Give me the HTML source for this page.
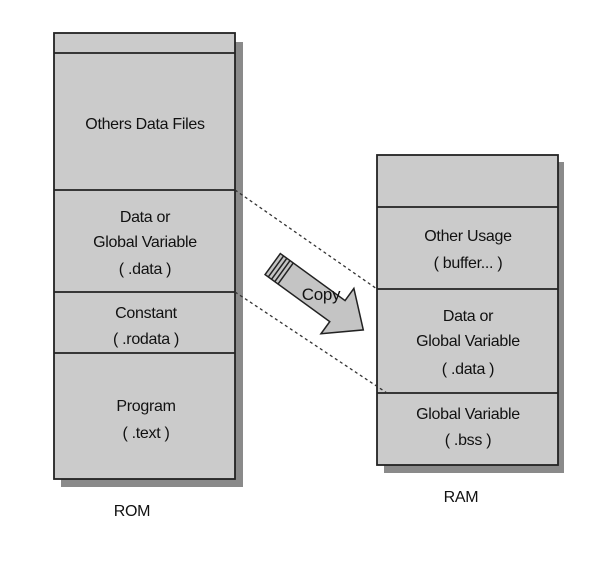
<!DOCTYPE html>
<html><head><style>
body{margin:0;width:607px;height:557px;background:#fff;overflow:hidden;font-family:"Liberation Sans",sans-serif;}
</style></head><body>
<svg width="607" height="557" viewBox="0 0 607 557" xmlns="http://www.w3.org/2000/svg">
<g font-family="Liberation Sans, sans-serif" font-size="16" fill="#111" text-anchor="middle" letter-spacing="-0.3">
<!-- ROM -->
<rect x="61" y="42" width="182" height="445" fill="#8a8a8a"/>
<rect x="54" y="33" width="181" height="446" fill="#cbcbcb" stroke="#222" stroke-width="1.8"/>
<line x1="54" y1="53" x2="235" y2="53" stroke="#222" stroke-width="1.8"/>
<line x1="54" y1="190" x2="235" y2="190" stroke="#222" stroke-width="1.8"/>
<line x1="54" y1="292" x2="235" y2="292" stroke="#222" stroke-width="1.8"/>
<line x1="54" y1="353" x2="235" y2="353" stroke="#222" stroke-width="1.8"/>
<text x="145" y="129">Others Data Files</text>
<text x="145" y="222">Data or</text>
<text x="145" y="247">Global Variable</text>
<text x="145" y="274">( .data )</text>
<text x="146" y="318">Constant</text>
<text x="146" y="344">( .rodata )</text>
<text x="146" y="411">Program</text>
<text x="146" y="438">( .text )</text>
<text x="132" y="516">ROM</text>
<!-- RAM -->
<rect x="384" y="162" width="180" height="311" fill="#8a8a8a"/>
<rect x="377" y="155" width="181" height="310" fill="#cbcbcb" stroke="#222" stroke-width="1.8"/>
<line x1="377" y1="207" x2="558" y2="207" stroke="#222" stroke-width="1.8"/>
<line x1="377" y1="289" x2="558" y2="289" stroke="#222" stroke-width="1.8"/>
<line x1="377" y1="393" x2="558" y2="393" stroke="#222" stroke-width="1.8"/>
<text x="468" y="241">Other Usage</text>
<text x="468" y="268">( buffer... )</text>
<text x="468" y="321">Data or</text>
<text x="468" y="346">Global Variable</text>
<text x="468" y="374">( .data )</text>
<text x="468" y="419">Global Variable</text>
<text x="468" y="445">( .bss )</text>
<text x="461" y="502">RAM</text>
<!-- dashed -->
<line x1="235" y1="190" x2="377" y2="289" stroke="#333" stroke-width="1.3" stroke-dasharray="3,3"/>
<line x1="235" y1="292" x2="387" y2="393" stroke="#333" stroke-width="1.3" stroke-dasharray="3,3"/>
<!-- copy arrow -->
<g transform="translate(318,297) rotate(36)">
<polygon points="-56,-13 24,-13 24,-28 56,0 24,28 24,13 -56,13" fill="#c4c4c4" stroke="#222" stroke-width="1.5"/>
<line x1="-52" y1="-13" x2="-52" y2="13" stroke="#222" stroke-width="1.5"/>
<line x1="-48" y1="-13" x2="-48" y2="13" stroke="#222" stroke-width="1.5"/>
<line x1="-44" y1="-13" x2="-44" y2="13" stroke="#222" stroke-width="1.5"/>
<line x1="-40" y1="-13" x2="-40" y2="13" stroke="#222" stroke-width="1.5"/>
</g>
<text x="321" y="300" font-size="17">Copy</text>
</g>
</svg>
</body></html>
